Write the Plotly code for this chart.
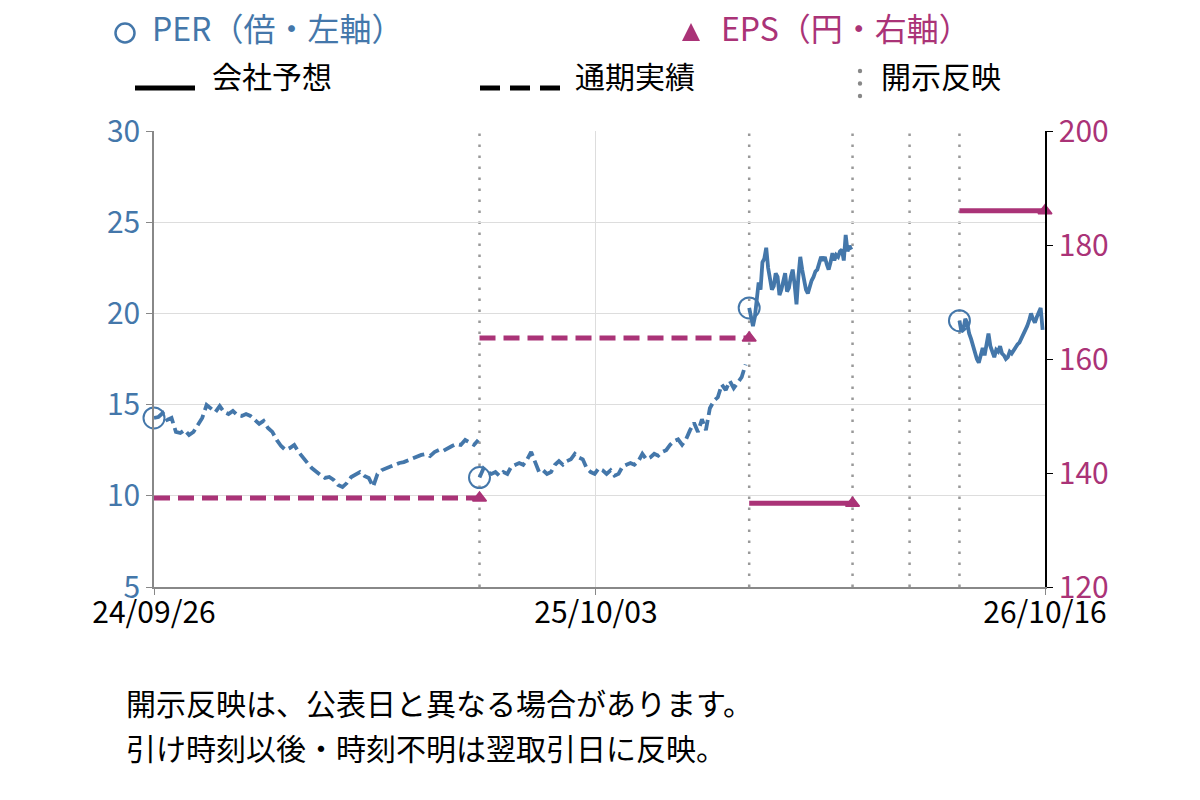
import plotly.graph_objects as go
import pandas as pd

# ---------------- data ----------------
x_tick_vals = ["2024-09-26", "2025-10-03", "2026-10-16"]
x_tick_text = ["24/09/26", "25/10/03", "26/10/16"]
x_range = ["2024-09-26", "2026-10-16"]

# dates on which disclosures were reflected (dotted vertical lines)
disclosure_dates = ["2025-06-27", "2026-02-09", "2026-05-07", "2026-06-24", "2026-08-05"]

# PER (left axis) – four segments, each sampled evenly between its first and last date
per_a_dates = ("2024-09-26", "2025-06-26")   # based on full-year actual
per_a = [14.27, 14.32, 14.54, 14.16, 14.27, 13.50, 13.44, 13.61, 13.33, 13.50, 13.88, 14.27,
         14.98, 14.81, 14.59, 14.92, 14.59, 14.48, 14.65, 14.43, 14.38, 14.48, 14.38, 14.16,
         13.94, 14.10, 13.72, 13.50, 13.06, 12.73, 12.51, 12.62, 12.79, 12.40, 12.07, 11.80,
         11.52, 11.30, 11.14, 10.98, 11.03, 10.87, 10.59, 10.48, 10.70, 11.03, 11.14, 11.30,
         11.09, 10.98, 10.50, 11.20, 11.41, 11.52, 11.63, 11.69, 11.80, 11.85, 11.96, 12.07,
         12.13, 12.24, 12.29, 12.18, 12.40, 12.51, 12.46, 12.62, 12.73, 12.84, 12.79, 13.06,
         12.95, 12.79, 13.06]
per_b_dates = ("2025-06-27", "2026-02-06")   # based on full-year actual
per_b = [11.0, 11.5, 11.3, 11.2, 11.3, 11.1, 11.3, 11.2, 11.6, 11.7, 11.8, 11.7, 12.0, 12.4,
         11.9, 11.3, 11.4, 11.2, 11.3, 11.7, 11.9, 11.7, 11.9, 12.0, 12.3, 12.1, 12.0, 11.5,
         11.3, 11.2, 11.5, 11.4, 11.2, 11.4, 11.1, 11.2, 11.6, 11.7, 11.8, 11.7, 11.9, 12.3,
         12.0, 12.1, 12.3, 12.2, 12.4, 12.5, 12.8, 13.0, 13.1, 12.8, 13.1, 13.6, 14.0, 13.5,
         14.2, 13.6, 14.8, 15.2, 15.4, 16.1, 15.8, 16.3, 15.9, 16.2, 16.5, 17.2]
per_c_dates = ("2026-02-09", "2026-05-06")   # based on company forecast
per_c = [20.3, 19.8, 19.3, 19.8, 20.6, 21.7, 21.3, 22.8, 23.0, 23.6, 22.5, 21.8, 21.3, 21.5,
         22.2, 22.0, 21.0, 21.3, 21.9, 22.2, 21.2, 21.4, 22.0, 22.4, 21.6, 20.5, 22.0, 23.1,
         22.4, 21.8, 21.3, 21.1, 21.5, 21.8, 22.0, 22.3, 22.4, 22.8, 23.1, 22.9, 23.1, 22.7,
         22.4, 22.8, 23.3, 22.9, 23.2, 23.1, 23.4, 23.5, 22.9, 24.3, 23.4, 23.7, 23.5]
per_d_dates = ("2026-08-05", "2026-10-14")   # based on company forecast
per_d = [19.6, 19.0, 19.1, 19.7, 19.5, 18.9, 18.6, 18.2, 17.9, 17.5, 17.3, 17.8, 18.1, 17.7,
         18.4, 18.9, 18.2, 17.8, 17.6, 18.0, 17.9, 18.2, 17.8, 17.7, 17.5, 17.6, 17.9, 17.8,
         18.0, 18.1, 18.3, 18.4, 18.6, 18.8, 19.0, 19.3, 19.6, 20.0, 19.7, 19.5, 19.8, 20.1,
         20.3, 19.1]
per_kind = ["actual", "actual", "forecast", "forecast"]

# EPS (right axis) – step segments
eps_start = ["2024-09-26", "2025-06-27", "2026-02-09", "2026-08-05"]
eps_end = ["2025-06-27", "2026-02-09", "2026-05-07", "2026-10-16"]
eps_value = [135.6, 163.7, 134.7, 186.0]
eps_kind = ["actual", "actual", "forecast", "forecast"]

legend_labels = ["PER（倍・左軸）", "EPS（円・右軸）", "会社予想", "通期実績", "開示反映"]
notes = ["開示反映は、公表日と異なる場合があります。", "引け時刻以後・時刻不明は翌取引日に反映。"]

# ---------------- style ----------------
BLUE = "#4477AA"
MAGENTA = "#AA3377"
FONT = "Noto Sans CJK JP"
DOT_GREY = "#999999"
PER_DASH = "12px,5px"
EPS_DASH = "16px,8px"

L, R, T, B = 154, 1045, 131, 587   # plot area in pixels


def px(x):
    return (x - L) / (R - L)


def py(y):
    return (B - y) / (B - T)


fig = go.Figure()

# PER lines
per_segments = [(per_a_dates, per_a), (per_b_dates, per_b), (per_c_dates, per_c), (per_d_dates, per_d)]
circle_x, circle_y = [], []
for (dates, vals), kind in zip(per_segments, per_kind):
    xs = pd.date_range(dates[0], dates[1], periods=len(vals))
    fig.add_trace(go.Scatter(
        x=xs, y=vals, mode="lines", yaxis="y",
        line=dict(color=BLUE, width=3.8, dash=PER_DASH if kind == "actual" else "solid"),
        hoverinfo="skip", showlegend=False))
    circle_x.append(xs[0])
    circle_y.append(vals[0])

fig.add_trace(go.Scatter(
    x=circle_x, y=circle_y, mode="markers", yaxis="y",
    marker=dict(symbol="circle-open", size=21, color=BLUE, line=dict(width=2, color=BLUE)),
    hoverinfo="skip", showlegend=False, cliponaxis=False))

# EPS lines
for s, e, v, kind in zip(eps_start, eps_end, eps_value, eps_kind):
    fig.add_trace(go.Scatter(
        x=[s, e], y=[v, v], mode="lines", yaxis="y2",
        line=dict(color=MAGENTA, width=5, dash=EPS_DASH if kind == "actual" else "solid"),
        hoverinfo="skip", showlegend=False))
fig.add_trace(go.Scatter(
    x=eps_end, y=eps_value, mode="markers", yaxis="y2",
    marker=dict(symbol="triangle-up", size=12, color=MAGENTA, line=dict(width=1.5, color=MAGENTA)),
    hoverinfo="skip", showlegend=False, cliponaxis=False))

shapes = []
for d in disclosure_dates:
    shapes.append(dict(type="line", xref="x", yref="paper", x0=d, x1=d, y0=0, y1=1,
                       line=dict(color=DOT_GREY, width=2.5, dash="2.5px,8.5px"), layer="below"))

# legend graphics
shapes.append(dict(type="circle", xref="paper", yref="paper",
                   x0=px(115.5), x1=px(134.5), y0=py(42.5), y1=py(23.5),
                   line=dict(color=BLUE, width=2.5)))
shapes.append(dict(type="path", xref="paper", yref="paper",
                   path=f"M{px(682)},{py(41)} L{px(700)},{py(41)} L{px(691)},{py(23)} Z",
                   fillcolor=MAGENTA, line=dict(color=MAGENTA, width=0)))
shapes.append(dict(type="line", xref="paper", yref="paper", x0=px(135), x1=px(195), y0=py(88), y1=py(88),
                   line=dict(color="black", width=5)))
shapes.append(dict(type="line", xref="paper", yref="paper", x0=px(480), x1=px(560), y0=py(88), y1=py(88),
                   line=dict(color="black", width=5, dash="20px,10px")))
for yy in (71, 83.5, 96):
    shapes.append(dict(type="circle", xref="paper", yref="paper",
                       x0=px(857.8), x1=px(862.2), y0=py(yy + 2.2), y1=py(yy - 2.2),
                       fillcolor="#888888", line=dict(width=0)))

annotations = []
ann_specs = [
    (legend_labels[0], 150, 27, BLUE, 32),
    (legend_labels[1], 719, 27, MAGENTA, 32),
    (legend_labels[2], 210, 75, "black", 30),
    (legend_labels[3], 573, 75, "black", 30),
    (legend_labels[4], 879, 75, "black", 30),
    (notes[0], 124, 702, "black", 30),
    (notes[1], 124, 747, "black", 30),
]
for text, xp, yp, col, size in ann_specs:
    annotations.append(dict(text=text, xref="paper", yref="paper", x=px(xp), y=py(yp),
                            xanchor="left", yanchor="middle", showarrow=False,
                            font=dict(family=FONT, size=size, color=col)))

fig.update_layout(
    width=1200, height=800,
    margin=dict(l=L, r=1200 - R, t=T, b=800 - B, pad=0),
    paper_bgcolor="white", plot_bgcolor="white",
    font=dict(family=FONT, size=30, color="black"),
    showlegend=False,
    xaxis=dict(type="date", range=x_range, tickvals=x_tick_vals, ticktext=x_tick_text,
               showgrid=True, gridcolor="#dddddd", gridwidth=1,
               showline=True, linecolor="#888888", linewidth=1.5,
               ticks="outside", ticklen=6, tickcolor="#888888", ticklabelstandoff=-8,
               tickfont=dict(family=FONT, size=30, color="black"), zeroline=False),
    yaxis=dict(range=[5, 30], dtick=5, tick0=5,
               showgrid=True, gridcolor="#dddddd", gridwidth=1,
               showline=True, linecolor="#888888", linewidth=1.5,
               ticks="outside", ticklen=6, tickcolor="#888888",
               tickfont=dict(family=FONT, size=30, color=BLUE), zeroline=False),
    yaxis2=dict(range=[120, 200], dtick=20, tick0=120, overlaying="y", side="right",
                showgrid=False, showline=True, linecolor="black", linewidth=1.5,
                ticks="outside", ticklen=6, tickcolor="black",
                tickfont=dict(family=FONT, size=30, color=MAGENTA), zeroline=False),
    shapes=shapes,
    annotations=annotations,
)

fig.write_html("out.html")
